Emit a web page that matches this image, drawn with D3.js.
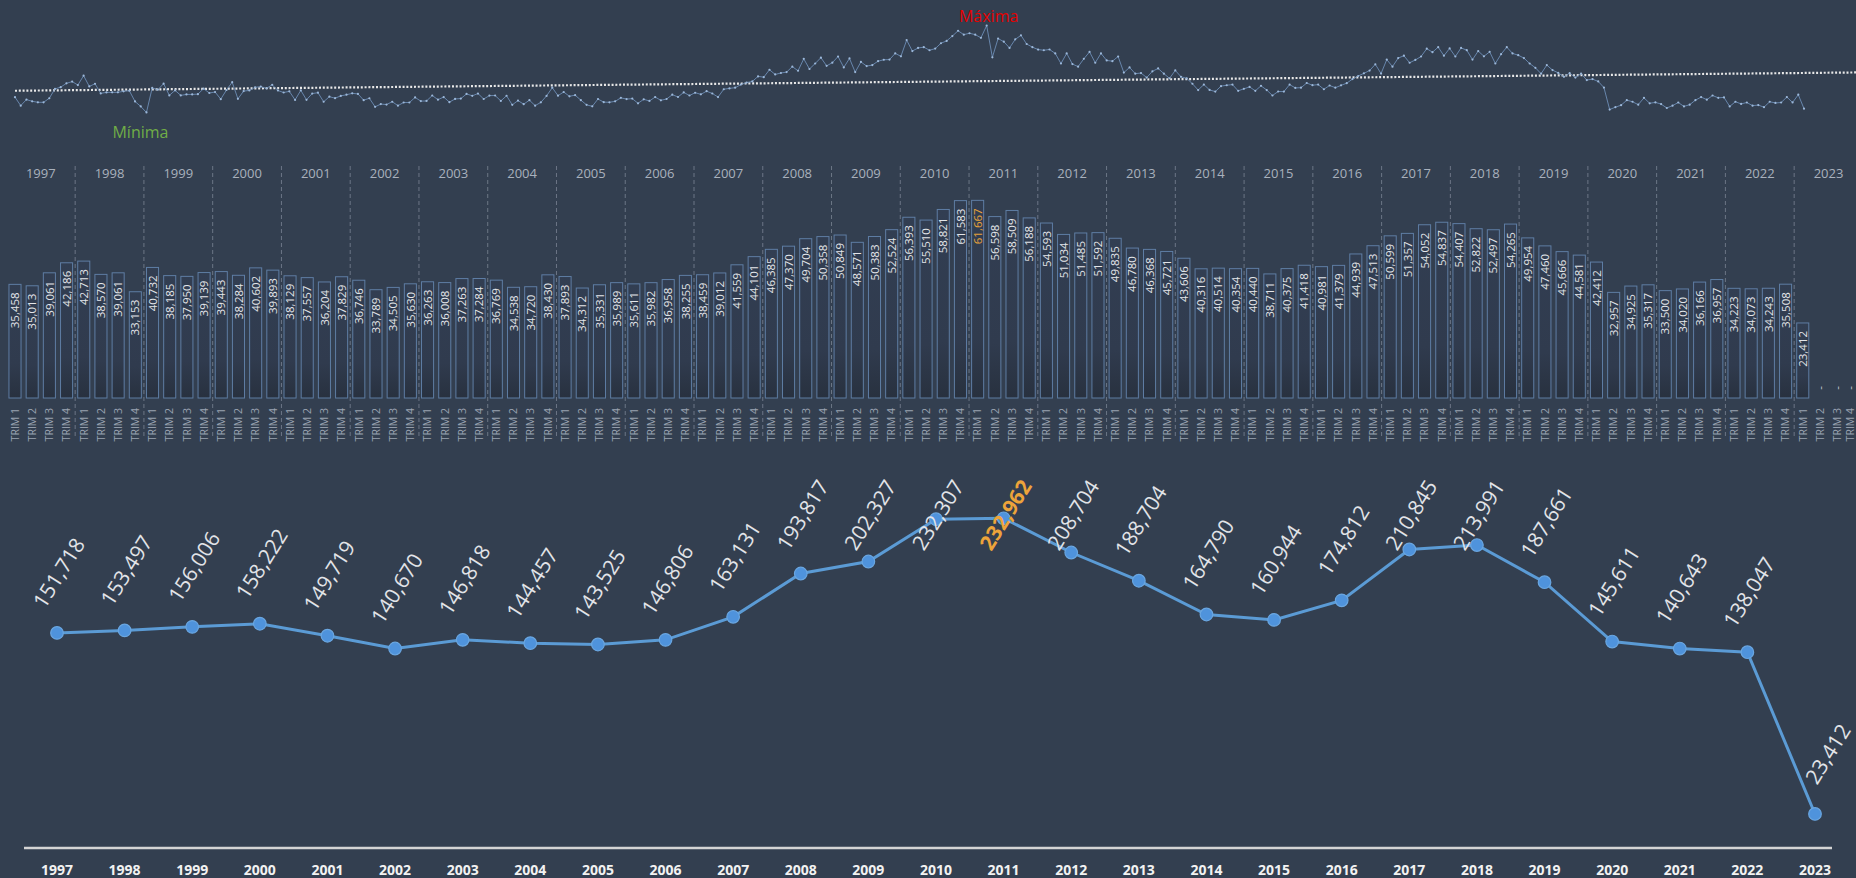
<!DOCTYPE html>
<html><head><meta charset="utf-8">
<script src="https://cdn.jsdelivr.net/npm/d3@7"></script>
<style>
html,body{margin:0;padding:0;background:#333f50;}
svg{display:block;}
</style></head><body>
<svg id="c" width="1856" height="878"></svg>
<script>
// ---------- DATA ----------
const years = [1997,1998,1999,2000,2001,2002,2003,2004,2005,2006,2007,2008,2009,2010,2011,2012,2013,2014,2015,2016,2017,2018,2019,2020,2021,2022,2023];
const annualTotals = [151718,153497,156006,158222,149719,140670,146818,144457,143525,146806,163131,193817,202327,232307,232962,208704,188704,164790,160944,174812,210845,213991,187661,145611,140643,138047,23412];
const quarterNames = ["TRIM 1","TRIM 2","TRIM 3","TRIM 4"];
const quarterValues = [
 35458,35013,39061,42186, 42713,38570,39061,33153, 40732,38185,37950,39139, 39443,38284,40602,39893,
 38129,37557,36204,37829, 36746,33789,34505,35630, 36263,36008,37263,37284, 36769,34538,34720,38430,
 37893,34312,35331,35989, 35611,35982,36958,38255, 38459,39012,41559,44101, 46385,47370,49704,50358,
 50849,48571,50383,52524, 56393,55510,58821,61583, 61667,56598,58509,56188, 54593,51034,51485,51592,
 49835,46780,46368,45721, 43606,40316,40514,40354, 40440,38711,40375,41418, 40981,41379,44939,47513,
 50599,51357,54052,54837, 54407,52822,52497,54265, 49954,47460,45666,44581, 42412,32957,34925,35317,
 33500,34020,36166,36957, 34223,34073,34243,35508, 23412];
const emptyQuarterMark = "-";
const monthlyValues = [
 12285,11200,11973, 11758,11628,11627, 12146,13347,13568, 14062,14283,13841,
 15044,13665,14004, 12770,12899,12901, 12908,13037,13116, 11734,11095,10324,
 13466,13245,14021, 12512,13161,12512, 12637,12637,12676, 13374,12818,12947,
 12034,13204,14205, 12071,13068,13145, 13547,13638,13417, 13870,13141,12882,
 13031,11936,13162, 11947,12750,12860, 11700,12350,12154, 12450,12600,12779,
 12700,11900,12146, 11050,11400,11339, 11700,11200,11605, 11600,12250,11780,
 11800,12500,11963, 12300,11650,12058, 12100,12700,12463, 12750,12050,12484,
 12500,11800,12469, 11300,11850,11388, 11900,11200,11620, 12450,13500,12480,
 12950,12400,12543, 11900,11300,11112, 12050,11650,11631, 11750,12200,12039,
 12100,11500,12011, 11800,12300,11882, 12050,12600,12308, 12900,12500,12855,
 12650,13050,12759, 12300,13300,13412, 13500,13900,14159, 14300,14950,14851,
 15800,15200,15385, 15500,16200,15670, 17200,15900,16604, 17350,16300,16708,
 17500,16100,17249, 15500,16800,16271, 16400,16900,17083, 17100,17900,17524,
 19600,18200,18593, 18700,18300,18510, 19200,19500,20121, 20800,20300,20483,
 20300,19900,21467, 17400,19800,19398, 18600,19700,20209, 19100,18700,18388,
 18300,18400,17893, 16600,17900,16534, 16200,17200,18085, 16700,17900,16992,
 16900,17500,15435, 16100,15300,15380, 14800,15600,15968, 15300,14700,15721,
 14900,14700,14006, 13200,13900,13216, 13000,13700,13814, 13900,13100,13354,
 13600,13100,13740, 13200,12500,13011, 13000,13900,13475, 13500,14100,13818,
 13900,13300,13781, 13500,13800,14079, 14600,15000,15339, 15700,16500,15313,
 17100,16200,17299, 17600,16700,17057, 17500,18500,18052, 18700,17600,18537,
 17500,18600,18307, 17100,18200,17522, 18100,16600,17797, 18700,17900,17665,
 17300,16600,16054, 15300,16400,15760, 15400,14900,15366, 14800,15300,14481,
 14600,14300,13512, 10700,11000,11257, 11900,11700,11325, 12200,11500,11617,
 11400,10900,11200, 11600,11100,11320, 11900,12300,11966, 12500,12200,12257,
 11100,11700,11423, 11600,11200,11273, 11000,11700,11543, 11600,12300,11608,
 12600,10812];
const maxLabel = "Máxima";
const minLabel = "Mínima";
const highlightYear = 2011;

// ---------- STYLE ----------
const BG = "#333f50";
const svg = d3.select("#c");
svg.append("rect").attr("width",1856).attr("height",878).attr("fill",BG);
const defs = svg.append("defs");
const grad = defs.append("linearGradient").attr("id","barGrad").attr("x1",0).attr("y1",0).attr("x2",0).attr("y2",1);
grad.append("stop").attr("offset","0%").attr("stop-color","#323e52");
grad.append("stop").attr("offset","70%").attr("stop-color","#303b4e");
grad.append("stop").attr("offset","100%").attr("stop-color","#28313f");

// ---------- SPARKLINE ----------
const sx = d3.scaleLinear().domain([0, monthlyValues.length-1]).range([15, 1804]);
const sy = d3.scaleLinear().domain([10000, 20000]).range([115, 37]);
const gS = svg.append("g");
const mx = d3.mean(monthlyValues, (d,i)=>i), my = d3.mean(monthlyValues);
let num=0, den=0;
monthlyValues.forEach((v,i)=>{num+=(i-mx)*(v-my); den+=(i-mx)*(i-mx);});
const slope = num/den, icpt = my - slope*mx;
const tEnd = sx.invert(1856);
gS.append("line")
  .attr("x1", sx(0)).attr("y1", sy(icpt))
  .attr("x2", sx(tEnd)).attr("y2", sy(icpt + slope*tEnd))
  .attr("stroke","#e8e8e8").attr("stroke-width",2.2).attr("stroke-dasharray","2,1.8");
gS.append("path").datum(monthlyValues)
  .attr("d", d3.line().x((d,i)=>sx(i)).y(d=>sy(d)))
  .attr("fill","none").attr("stroke","#6d8db5").attr("stroke-width",0.9);
gS.selectAll("circle.m").data(monthlyValues).join("circle")
  .attr("cx",(d,i)=>sx(i)).attr("cy",d=>sy(d)).attr("r",1.1).attr("fill","#9cb8da");
const iMax = d3.maxIndex(monthlyValues), iMin = d3.minIndex(monthlyValues);
gS.append("text").attr("x", sx(iMax)+2).attr("y", sy(monthlyValues[iMax]) - 4)
  .attr("text-anchor","middle").attr("font-family","Open Sans").attr("font-size",16)
  .attr("fill","#e50000").text(maxLabel);
gS.append("text").attr("x", sx(iMin)-6).attr("y", sy(monthlyValues[iMin]) + 26)
  .attr("text-anchor","middle").attr("font-family","Open Sans").attr("font-size",16)
  .attr("fill","#70ad47").text(minLabel);

// ---------- QUARTERLY BARS ----------
const slots = d3.range(years.length*4);
const bx = d3.scaleBand().domain(slots).range([6.4, 6.4 + 108*17.19]).paddingInner(0.24).paddingOuter(0.12);
const by = d3.scaleLinear().domain([0, 70000]).range([398, 398 - 70000/312]);
const gB = svg.append("g");
gB.selectAll("line.sep").data(years.slice(1)).join("line")
  .attr("x1",(d,i)=>bx((i+1)*4) - bx.step()*0.12).attr("x2",(d,i)=>bx((i+1)*4) - bx.step()*0.12)
  .attr("y1",166).attr("y2",438)
  .attr("stroke","#6c7686").attr("stroke-width",1).attr("stroke-dasharray","4,3");
gB.selectAll("text.yr").data(years).join("text")
  .attr("x",(d,i)=>(bx(i*4) + bx(i*4+3) + bx.bandwidth())/2).attr("y",178)
  .attr("text-anchor","middle").attr("font-family","Open Sans").attr("font-size",13)
  .attr("fill","#a9b1bd").text(d=>d);
gB.selectAll("rect.bar").data(quarterValues).join("rect")
  .attr("x",(d,i)=>bx(i)+0.5).attr("width",bx.bandwidth()-1)
  .attr("y",d=>by(d)).attr("height",d=>by(0)-by(d))
  .attr("fill","url(#barGrad)").attr("stroke","#6688b3").attr("stroke-opacity",0.85).attr("stroke-width",1);
gB.selectAll("text.val").data(quarterValues).join("text")
  .attr("transform",(d,i)=>`translate(${bx(i)+bx.bandwidth()/2},${by(d)+8}) rotate(-90)`)
  .attr("dy","0.36em").attr("text-anchor","end")
  .attr("font-family","Open Sans").attr("font-size",11.5)
  .attr("fill",(d,i)=> years[Math.floor(i/4)]===highlightYear && i%4===0 ? "#e8a33b" : "#e4e6ea")
  .text(d=>d3.format(",")(d));
gB.selectAll("text.empty").data(slots.slice(quarterValues.length)).join("text")
  .attr("transform",d=>`translate(${Math.min(bx(d)+bx.bandwidth()/2, 1850)},${by(0)-12}) rotate(-90)`)
  .attr("dy","0.36em").attr("text-anchor","end")
  .attr("font-family","Open Sans").attr("font-size",11.5).attr("fill","#c8ccd2").text(emptyQuarterMark);
gB.selectAll("text.q").data(slots).join("text")
  .attr("transform",(d)=>`translate(${Math.min(bx(d)+bx.bandwidth()/2, 1850)},${408}) rotate(-90)`)
  .attr("dy","0.36em").attr("text-anchor","end")
  .attr("font-family","Open Sans").attr("font-size",10.5).attr("fill","#9aa3b0")
  .text(d=>quarterNames[d%4]);

// ---------- ANNUAL LINE ----------
const lx = d3.scalePoint().domain(years).range([57, 1815]);
const ly = d3.scaleLinear().domain([0, 250000]).range([847, 847 - 250000/708.7]);
const gL = svg.append("g");
gL.append("line").attr("x1",24).attr("x2",1832).attr("y1",848).attr("y2",848)
  .attr("stroke","#d4d4d4").attr("stroke-width",2.5);
gL.selectAll("text.ax").data(years).join("text")
  .attr("x",d=>lx(d)).attr("y",875).attr("text-anchor","middle")
  .attr("font-family","Open Sans").attr("font-weight","bold").attr("font-size",14)
  .attr("fill","#f2f2f2").text(d=>d);
gL.append("path").datum(annualTotals)
  .attr("d", d3.line().x((d,i)=>lx(years[i])).y(d=>ly(d)))
  .attr("fill","none").attr("stroke","#5b9bd5").attr("stroke-width",3);
gL.selectAll("circle.pt").data(annualTotals).join("circle")
  .attr("cx",(d,i)=>lx(years[i])).attr("cy",d=>ly(d)).attr("r",6.3)
  .attr("fill","#4f93dc").attr("stroke","#6aa6e0").attr("stroke-width",1.2);
gL.selectAll("text.lv").data(annualTotals).join("text")
  .attr("transform",(d,i)=>{
    const last = i===annualTotals.length-1;
    const cx = lx(years[i]) + (last?13:2);
    const cy = Math.max(ly(d) - 60, 515);
    return `translate(${cx},${cy}) rotate(-58)`;
  })
  .attr("dy","0.35em").attr("text-anchor","middle")
  .attr("font-family","Open Sans").attr("font-size",21)
  .attr("font-weight",(d,i)=>years[i]===highlightYear?"bold":"normal")
  .attr("fill",(d,i)=>years[i]===highlightYear?"#eda43a":"#e2e4e8")
  .text(d=>d3.format(",")(d));
</script>
</body></html>
